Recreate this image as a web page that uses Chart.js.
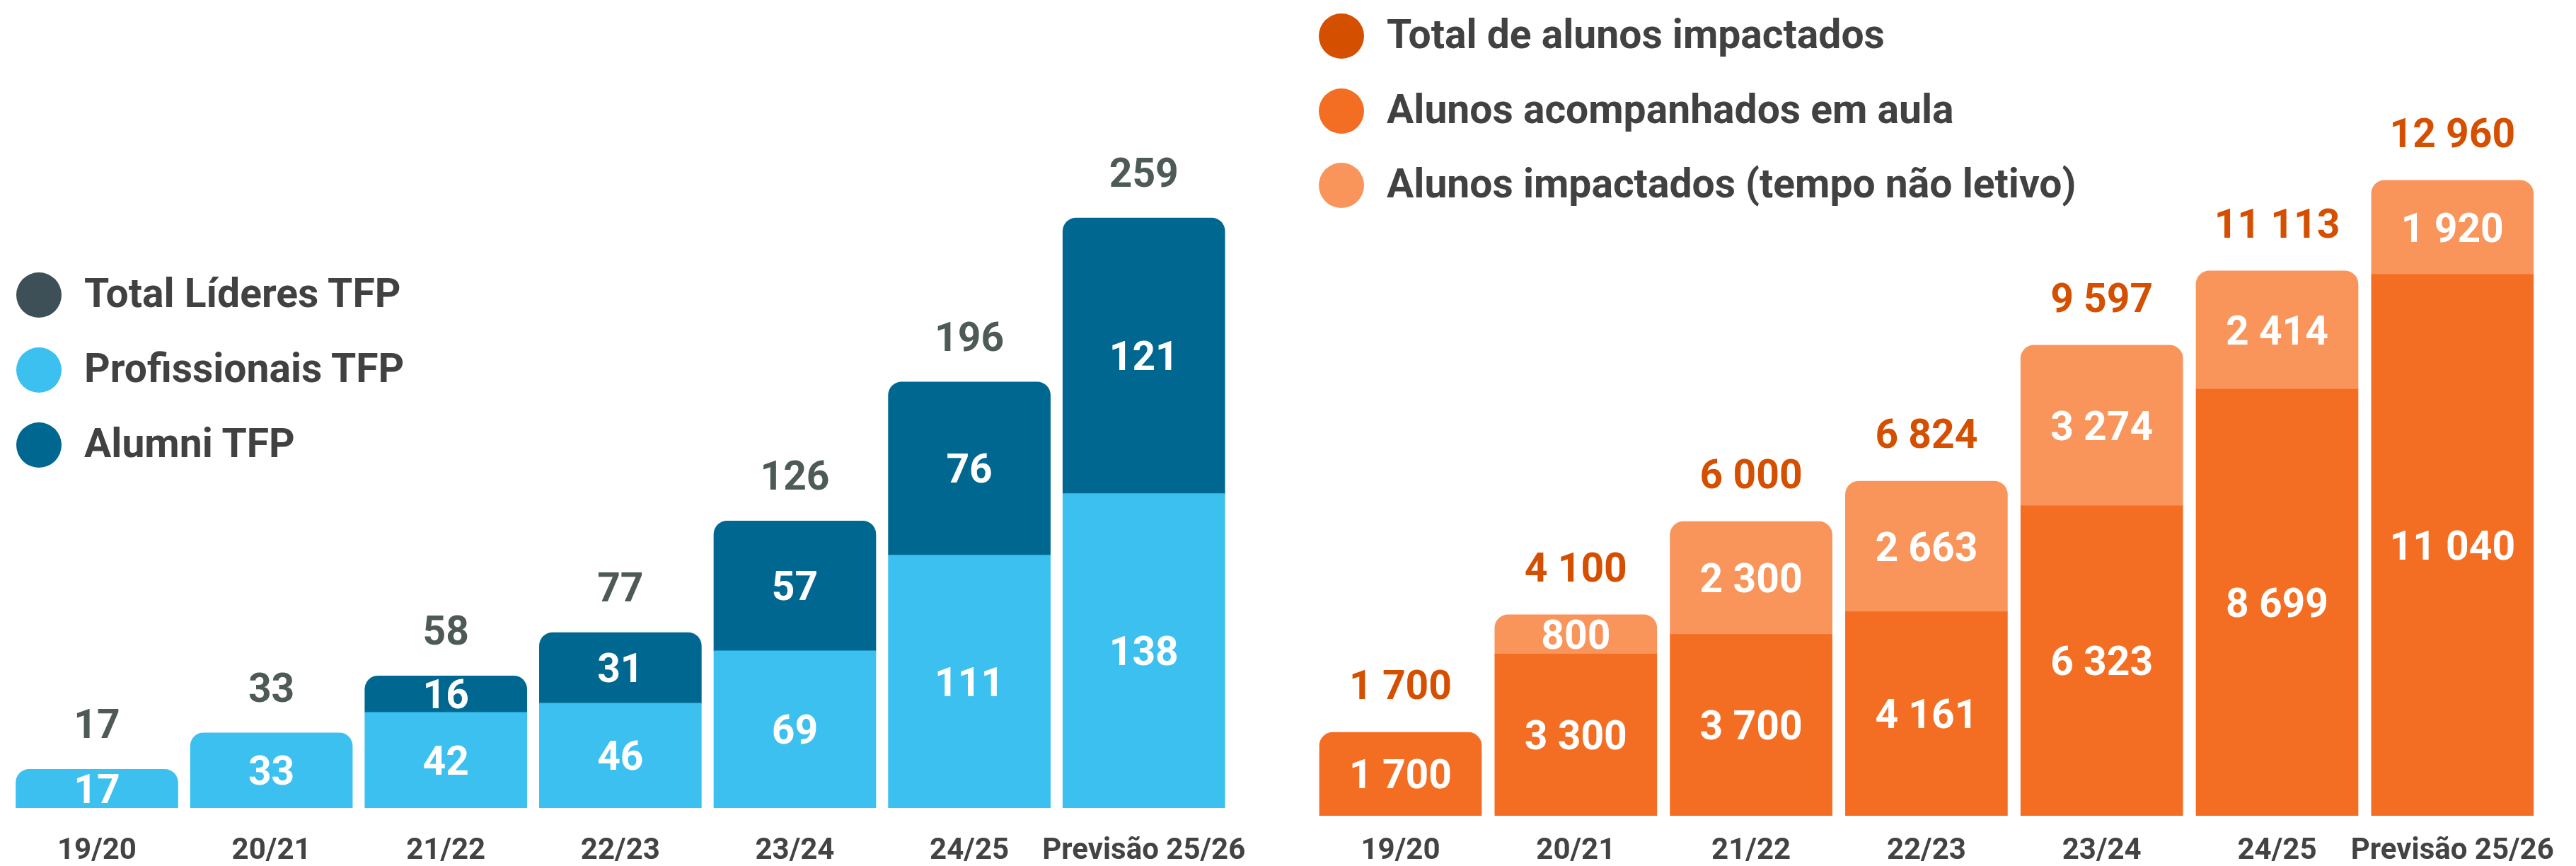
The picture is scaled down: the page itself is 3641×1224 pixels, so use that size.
<!DOCTYPE html>
<html lang="pt">
<head>
<meta charset="utf-8">
<title>TFP</title>
<script src="https://cdn.jsdelivr.net/npm/chart.js@4.4.1/dist/chart.umd.min.js"></script>
<style>
  html, body { margin: 0; padding: 0; background: #ffffff; }
  body { width: 3641px; height: 1224px; position: relative; overflow: hidden; font-family: Roboto, "Noto Sans", sans-serif; }
  canvas { position: absolute; top: 0; }
  #cLeft { left: 0; }
  #cRight { left: 1800px; }
  .leg-row { position: absolute; height: 64px; display: flex; align-items: center; white-space: nowrap; }
  .leg-dot { width: 64px; height: 64px; border-radius: 50%; flex: 0 0 64px; margin-right: 32px; }
  .leg-txt { font-family: Roboto, sans-serif; font-weight: 700; font-size: 57px; line-height: 64px; color: #414141; position: relative; top: -2px; }
</style>
</head>
<body>
<canvas id="cLeft" width="1800" height="1224"></canvas>
<canvas id="cRight" width="1841" height="1224"></canvas>
<div id="legLeft"></div>
<div id="legRight"></div>
<script>
// ---- Data ----
const categories = ['19/20', '20/21', '21/22', '22/23', '23/24', '24/25', 'Previsão 25/26'];

// Left chart (líderes TFP)
const profissionaisTFP = [17, 33, 42, 46, 69, 111, 138];
const alumniTFP = [null, null, 16, 31, 57, 76, 121];
const totalLideresTFP = [17, 33, 58, 77, 126, 196, 259];

// Right chart (alunos)
const alunosAula = [1700, 3300, 3700, 4161, 6323, 8699, 11040];
const alunosNaoLetivo = [null, 800, 2300, 2663, 3274, 2414, 1920];
const totalAlunos = [1700, 4100, 6000, 6824, 9597, 11113, 12960];

const leftLegend = ['Total Líderes TFP', 'Profissionais TFP', 'Alumni TFP'];
const rightLegend = ['Total de alunos impactados', 'Alunos acompanhados em aula', 'Alunos impactados (tempo não letivo)'];

// ---- Styles ----
const C = {
  lightBlue: '#3BC0EF', darkBlue: '#006890', totalGrey: '#4E5A55', totalGreyDot: '#3D4F57',
  orange: '#F36E22', lightOrange: '#F9955B', totalOrange: '#D54F00',
  axisText: '#434343'
};
const FONT = 'Roboto';

function fmt(v) { return String(v).replace(/\B(?=(\d{3})+(?!\d))/g, ' '); }

const valueLabels = {
  id: 'valueLabels',
  afterDatasetsDraw(chart, args, opts) {
    const ctx = chart.ctx;
    const size = opts.size;
    const capHalf = size * 0.711 / 2;
    ctx.save();
    ctx.font = 'bold ' + size + 'px ' + FONT;
    ctx.textAlign = 'center';
    ctx.textBaseline = 'alphabetic';
    chart.data.datasets.forEach((ds, di) => {
      const meta = chart.getDatasetMeta(di);
      meta.data.forEach((bar, i) => {
        const v = ds.data[i];
        if (v == null) return;
        const p = bar.getProps(['x', 'y', 'base'], true);
        ctx.fillStyle = '#ffffff';
        ctx.fillText(fmt(v), p.x, (p.y + p.base) / 2 + capHalf);
      });
    });
    opts.totals.forEach((t, i) => {
      let top = Infinity, x = null;
      chart.data.datasets.forEach((ds, di) => {
        if (ds.data[i] == null) return;
        const el = chart.getDatasetMeta(di).data[i];
        if (el.y < top) { top = el.y; x = el.x; }
      });
      if (x === null) return;
      ctx.fillStyle = opts.color;
      ctx.fillText(fmt(t), x, top - opts.gap);
    });
    ctx.restore();
  }
};

function makeChart(id, datasets, yMax, padding, axisHeight, tickPad, totals, totalColor, gap) {
  return new Chart(document.getElementById(id), {
    type: 'bar',
    data: { labels: categories, datasets: datasets },
    options: {
      responsive: false,
      animation: false,
      devicePixelRatio: 1,
      layout: { padding: padding },
      plugins: {
        legend: { display: false },
        tooltip: { enabled: false },
        valueLabels: { totals: totals, color: totalColor, gap: gap, size: 57 }
      },
      datasets: { bar: { barThickness: 229, borderRadius: 19, borderSkipped: 'start' } },
      scales: {
        x: {
          stacked: true,
          grid: { display: false, drawTicks: false },
          border: { display: false },
          ticks: { font: { family: FONT, weight: 'bold', size: 42 }, color: C.axisText, padding: tickPad, maxRotation: 0, autoSkip: false },
          afterFit(s) { s.height = axisHeight; }
        },
        y: { stacked: true, display: false, min: 0, max: yMax }
      }
    },
    plugins: [valueLabels]
  });
}

makeChart('cLeft', [
  { label: leftLegend[1], data: profissionaisTFP, backgroundColor: C.lightBlue },
  { label: leftLegend[2], data: alumniTFP, backgroundColor: C.darkBlue }
], 300, { left: 13.65, right: 52.45, top: 176, bottom: 0 }, 82, 36, totalLideresTFP, C.totalGrey, 44);

makeChart('cRight', [
  { label: rightLegend[1], data: alunosAula, backgroundColor: C.orange },
  { label: rightLegend[2], data: alunosNaoLetivo, backgroundColor: C.lightOrange }
], 15000, { left: 55.6, right: 50.8, top: 113.5, bottom: 0 }, 71, 25, totalAlunos, C.totalOrange, 47);

function buildLegend(holderId, texts, colors, left, tops) {
  const holder = document.getElementById(holderId);
  texts.forEach((t, i) => {
    const row = document.createElement('div');
    row.className = 'leg-row';
    row.style.left = left + 'px';
    row.style.top = tops[i] + 'px';
    const dot = document.createElement('span');
    dot.className = 'leg-dot';
    dot.style.background = colors[i];
    const txt = document.createElement('span');
    txt.className = 'leg-txt';
    txt.textContent = t;
    row.appendChild(dot);
    row.appendChild(txt);
    holder.appendChild(row);
  });
}
buildLegend('legLeft', leftLegend, [C.totalGreyDot, C.lightBlue, C.darkBlue], 23, [385, 491, 597]);
buildLegend('legRight', rightLegend, ['#D54F00', C.orange, C.lightOrange], 1864, [19, 125, 230]);
</script>
</body>
</html>
